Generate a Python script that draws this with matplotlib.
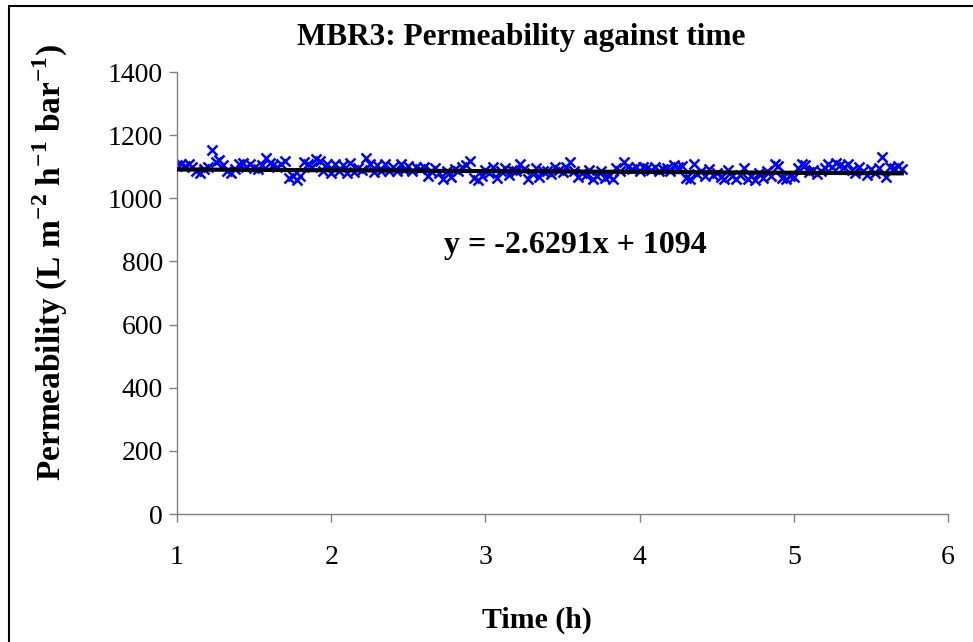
import matplotlib
matplotlib.use("Agg")
import matplotlib.pyplot as plt
from matplotlib.patches import Rectangle

plt.rcParams['font.family'] = ['Liberation Serif', 'DejaVu Serif']
plt.rcParams['mathtext.fontset'] = 'custom'
plt.rcParams['mathtext.rm'] = 'Liberation Serif'
plt.rcParams['mathtext.bf'] = 'Liberation Serif:bold'

# Sampling times (h)
time_h = [1.000, 1.025, 1.050, 1.075, 1.100, 1.125, 1.150, 1.175,
          1.200, 1.225, 1.250, 1.275, 1.300, 1.325, 1.350, 1.375,
          1.400, 1.425, 1.450, 1.475, 1.500, 1.525, 1.550, 1.575,
          1.600, 1.625, 1.650, 1.675, 1.700, 1.725, 1.750, 1.775,
          1.800, 1.825, 1.850, 1.875, 1.900, 1.925, 1.950, 1.975,
          2.000, 2.025, 2.050, 2.075, 2.100, 2.125, 2.150, 2.175,
          2.200, 2.225, 2.250, 2.275, 2.300, 2.325, 2.350, 2.375,
          2.400, 2.425, 2.450, 2.475, 2.500, 2.525, 2.550, 2.575,
          2.600, 2.625, 2.650, 2.675, 2.700, 2.725, 2.750, 2.775,
          2.800, 2.825, 2.850, 2.875, 2.900, 2.925, 2.950, 2.975,
          3.000, 3.025, 3.050, 3.075, 3.100, 3.125, 3.150, 3.175,
          3.200, 3.225, 3.250, 3.275, 3.300, 3.325, 3.350, 3.375,
          3.400, 3.425, 3.450, 3.475, 3.500, 3.525, 3.550, 3.575,
          3.600, 3.625, 3.650, 3.675, 3.700, 3.725, 3.750, 3.775,
          3.800, 3.825, 3.850, 3.875, 3.900, 3.925, 3.950, 3.975,
          4.000, 4.025, 4.050, 4.075, 4.100, 4.125, 4.150, 4.175,
          4.200, 4.225, 4.250, 4.275, 4.300, 4.325, 4.350, 4.375,
          4.400, 4.425, 4.450, 4.475, 4.500, 4.525, 4.550, 4.575,
          4.600, 4.625, 4.650, 4.675, 4.700, 4.725, 4.750, 4.775,
          4.800, 4.825, 4.850, 4.875, 4.900, 4.925, 4.950, 4.975,
          5.000, 5.025, 5.050, 5.075, 5.100, 5.125, 5.150, 5.175,
          5.200, 5.225, 5.250, 5.275, 5.300, 5.325, 5.350, 5.375,
          5.400, 5.425, 5.450, 5.475, 5.500, 5.525, 5.550, 5.575,
          5.600, 5.625, 5.650, 5.675, 5.700]

# Permeability (L m-2 h-1 bar-1)
permeability = [1105, 1108, 1102, 1110, 1098, 1085, 1080, 1092,
                1100, 1152, 1115, 1120, 1105, 1085, 1080, 1092,
                1108, 1112, 1100, 1110, 1095, 1092, 1105, 1128,
                1112, 1105, 1098, 1110, 1118, 1065, 1070, 1058,
                1072, 1115, 1110, 1098, 1125, 1118, 1085, 1108,
                1080, 1110, 1085, 1105, 1080, 1112, 1082, 1095,
                1090, 1128, 1108, 1082, 1105, 1088, 1110, 1085,
                1100, 1085, 1108, 1090, 1102, 1085, 1098, 1092,
                1100, 1070, 1088, 1095, 1080, 1062, 1085, 1068,
                1092, 1085, 1100, 1105, 1118, 1065, 1058, 1072,
                1090, 1080, 1098, 1065, 1085, 1095, 1075, 1090,
                1085, 1108, 1092, 1062, 1080, 1095, 1068, 1088,
                1085, 1078, 1098, 1090, 1082, 1100, 1115, 1085,
                1068, 1080, 1075, 1090, 1062, 1072, 1085, 1065,
                1070, 1060, 1095, 1085, 1115, 1100, 1092, 1098,
                1088, 1100, 1095, 1090, 1098, 1085, 1092, 1095,
                1088, 1105, 1098, 1102, 1065, 1060, 1108, 1078,
                1085, 1070, 1092, 1075, 1080, 1068, 1062, 1090,
                1070, 1060, 1075, 1095, 1062, 1072, 1058, 1080,
                1065, 1085, 1070, 1108, 1102, 1065, 1060, 1072,
                1068, 1095, 1110, 1105, 1082, 1090, 1078, 1085,
                1095, 1108, 1100, 1112, 1105, 1098, 1110, 1090,
                1080, 1098, 1085, 1075, 1092, 1080, 1095, 1130,
                1068, 1100, 1095, 1102, 1092]

# Linear trendline
slope = -2.6291
intercept = 1094.0
trend_x = [1.0, 5.7]

x_ticks = [1, 2, 3, 4, 5, 6]
y_ticks = [0, 200, 400, 600, 800, 1000, 1200, 1400]

W, H = 973, 642
fig = plt.figure(figsize=(W / 100, H / 100), dpi=100)
ax = fig.add_axes([177 / W, 1 - 514 / H, (948 - 177) / W, (514 - 72) / H])

ax.plot(time_h, permeability, linestyle='none', marker='x', color='#0000FF',
        markersize=7, markeredgewidth=1.8, zorder=2)
ax.plot(trend_x, [slope * x + intercept for x in trend_x], color='black',
        linewidth=3.0, zorder=3)

ax.set_xlim(1, 6)
ax.set_ylim(0, 1400)
ax.set_xticks(x_ticks)
ax.set_yticks(y_ticks)
ax.set_xticklabels([str(v) for v in x_ticks])
ax.set_yticklabels([str(v) for v in y_ticks])

for s in ['top', 'right']:
    ax.spines[s].set_visible(False)
for s in ['left', 'bottom']:
    ax.spines[s].set_color('#808080')
    ax.spines[s].set_linewidth(1.0)
ax.tick_params(axis='both', direction='out', length=6, width=1.0, color='#808080',
               labelsize=20, labelcolor='black')
ax.tick_params(axis='x', pad=16)
ax.tick_params(axis='y', pad=4)

fig.text(521 / W, 1 - 38 / H, 'MBR3: Permeability against time', ha='center', va='center',
         fontsize=22.5, fontweight='bold')
fig.text(537 / W, 1 - 620 / H, 'Time (h)', ha='center', va='center',
         fontsize=21.5, fontweight='bold')
fig.text(50 / W, 1 - 262 / H,
         r'Permeability (L m$^{\mathbf{-2}}$ h$^{\mathbf{-1}}$ bar$^{\mathbf{-1}}$)',
         ha='center', va='center', rotation=90, fontsize=24, fontweight='bold')
fig.text(575 / W, 1 - 245 / H, 'y = -2.6291x + 1094', ha='center', va='center',
         fontsize=23, fontweight='bold')

fig.patches.append(Rectangle((9 / W, -0.1), 1.2, 1 - 6 / H + 0.1, transform=fig.transFigure,
                             fill=False, edgecolor='black', linewidth=1.5))

fig.savefig('out.png', dpi=100)
